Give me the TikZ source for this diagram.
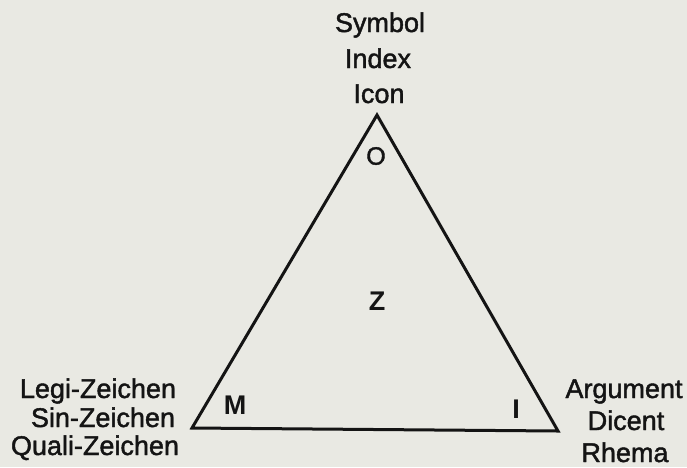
\documentclass[tikz,border=0pt]{standalone}
\usepackage{fontspec}
\setmainfont{Liberation Sans}
\newfontfamily\heavyfont[RawFeature={embolden=1.6}]{Liberation Sans}
\definecolor{paper}{RGB}{233,233,227}
\definecolor{ink}{RGB}{20,20,20}
\begin{document}
\begin{tikzpicture}[x=1pt,y=-1pt,
  lbl/.style={anchor=base,inner sep=0pt,text=ink,font=\heavyfont\fontsize{27}{32}\selectfont},
  inner/.style={anchor=center,inner sep=0pt,text=ink,font=\fontsize{27}{32}\selectfont\bfseries},
  edge/.style={draw=ink,line width=3pt,line join=miter}]
\fill[paper] (0,0) rectangle (687,467);
\useasboundingbox (0,0) rectangle (687,467);
% vertices
\coordinate (top) at (377,115);
\coordinate (bl) at (192,428);
\coordinate (br) at (558,431);
\draw[edge] (top) -- (br) -- (bl) -- cycle;
% top labels
\node[lbl] (symbol) at (380,32) {Symbol};
\node[lbl] (index) at (378,68) {Index};
\node[lbl] (icon) at (379,103) {Icon};
% left labels
\node[lbl] (legi) at (98,398) {Legi-Zeichen};
\node[lbl] (sin) at (103,427) {Sin-Zeichen};
\node[lbl] (quali) at (95,455) {Quali-Zeichen};
% right labels
\node[lbl] (argument) at (624,398) {Argument};
\node[lbl] (dicent) at (626,430) {Dicent};
\node[lbl] (rhema) at (625,462) {Rhema};
% inner letters
\node[inner,font=\heavyfont\fontsize{25}{30}\selectfont] (O) at (376,156) {O};
\node[inner] (M) at (235,405) {M};
\node[inner] (I) at (516,409) {I};
\node[inner] (Z) at (377,301) {Z};
\end{tikzpicture}
\end{document}
